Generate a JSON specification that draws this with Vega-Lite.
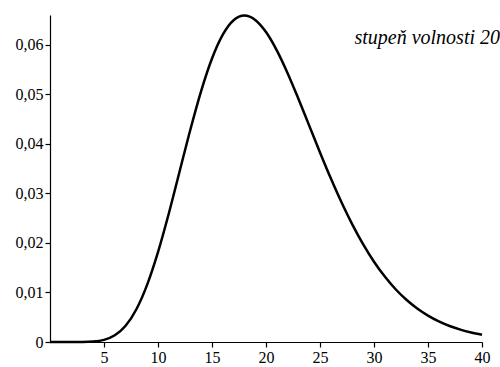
{
  "$schema": "https://vega.github.io/schema/vega-lite/v6.json",
  "autosize": {"type": "none"},
  "padding": {"left": 50, "top": 15, "right": 18, "bottom": 25},
  "width": 432,
  "height": 327,
  "background": "white",
  "config": {"view": {"stroke": null}, "font": "Liberation Serif"},
  "datasets": {
    "pdf": [
      {"x": 0, "y": 0}, {"x": 1, "y": 0.0000000016}, {"x": 2, "y": 0.000000506}, {"x": 3, "y": 0.0000118},
      {"x": 4, "y": 0.0000954}, {"x": 5, "y": 0.000431}, {"x": 6, "y": 0.001349}, {"x": 7, "y": 0.003277},
      {"x": 8, "y": 0.00661}, {"x": 9, "y": 0.01158}, {"x": 10, "y": 0.01813}, {"x": 11, "y": 0.02593},
      {"x": 12, "y": 0.03442}, {"x": 13, "y": 0.0429}, {"x": 14, "y": 0.0507}, {"x": 15, "y": 0.05722},
      {"x": 16, "y": 0.06204}, {"x": 17, "y": 0.06494}, {"x": 18, "y": 0.06588}, {"x": 19, "y": 0.065},
      {"x": 20, "y": 0.06255}, {"x": 21, "y": 0.05885}, {"x": 22, "y": 0.05425}, {"x": 23, "y": 0.04909},
      {"x": 24, "y": 0.04367}, {"x": 25, "y": 0.03826}, {"x": 26, "y": 0.03303}, {"x": 27, "y": 0.02814},
      {"x": 28, "y": 0.02368}, {"x": 29, "y": 0.01969}, {"x": 30, "y": 0.0162}, {"x": 31, "y": 0.0132},
      {"x": 32, "y": 0.01065}, {"x": 33, "y": 0.00852}, {"x": 34, "y": 0.00676}, {"x": 35, "y": 0.00533},
      {"x": 36, "y": 0.00416}, {"x": 37, "y": 0.00323}, {"x": 38, "y": 0.00249}, {"x": 39, "y": 0.00191},
      {"x": 40, "y": 0.00145}
    ],
    "label": [{"x": 40, "y": 0.0614, "text": "stupeň volnosti 20"}]
  },
  "layer": [
    {
      "data": {"name": "pdf"},
      "mark": {"type": "line", "color": "black", "strokeWidth": 2.5, "interpolate": "monotone", "clip": false},
      "encoding": {
        "x": {
          "field": "x", "type": "quantitative",
          "scale": {"domain": [0, 40], "nice": false, "zero": false},
          "axis": {
            "title": null, "values": [5, 10, 15, 20, 25, 30, 35, 40],
            "grid": false, "domainColor": "black", "domainWidth": 1.2,
            "tickColor": "black", "tickSize": 5, "tickWidth": 1.2,
            "labelFont": "Liberation Serif", "labelFontSize": 16, "labelColor": "black",
            "labelPadding": 2, "labelFlush": false
          }
        },
        "y": {
          "field": "y", "type": "quantitative",
          "scale": {"domain": [0, 0.066], "nice": false},
          "axis": {
            "title": null,
            "values": [0, 0.005, 0.01, 0.015, 0.02, 0.025, 0.03, 0.035, 0.04, 0.045, 0.05, 0.055, 0.06, 0.065],
            "grid": false, "domainColor": "black", "domainWidth": 1.2,
            "tickColor": "black", "tickWidth": 1.2,
            "tickSize": {"condition": {"test": "round(datum.value*1000) % 10 != 0", "value": 2.5}, "value": 5},
            "labelExpr": "round(datum.value*1000) % 10 != 0 ? '' : (datum.value == 0 ? '0' : replace(format(datum.value, '.2f'), '.', ','))",
            "labelFont": "Liberation Serif", "labelFontSize": 16, "labelColor": "black",
            "labelPadding": 2, "labelFlush": false
          }
        }
      }
    },
    {
      "data": {"name": "label"},
      "mark": {"type": "text", "font": "Liberation Serif", "fontStyle": "italic", "fontSize": 20, "align": "right", "baseline": "middle", "dx": 18, "color": "black", "clip": false},
      "encoding": {
        "x": {"field": "x", "type": "quantitative"},
        "y": {"field": "y", "type": "quantitative"},
        "text": {"field": "text"}
      }
    }
  ]
}
